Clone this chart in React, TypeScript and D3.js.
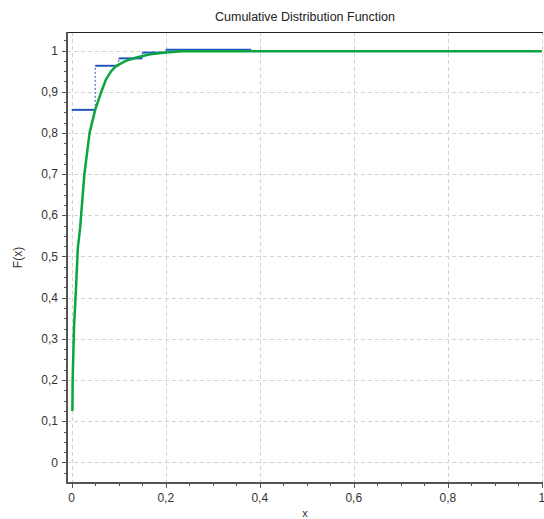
import React, { useRef, useEffect } from 'react';
import * as d3 from 'd3';

// empirical step function (blue)
const stepX = [0, 0.05, 0.1, 0.15, 0.2];
const stepY = [0.856, 0.963, 0.981, 0.995, 1.002];
const stepEnd = 0.382;

// fitted CDF (green)
const cdfX = [0.0015, 0.002, 0.005, 0.009, 0.013, 0.018, 0.02, 0.027, 0.038, 0.05, 0.063, 0.073, 0.084, 0.095, 0.115, 0.138, 0.167, 0.2, 0.235, 1.0];
const cdfY = [0.125, 0.2, 0.33, 0.42, 0.52, 0.57, 0.6, 0.7, 0.8, 0.856, 0.9, 0.93, 0.95, 0.963, 0.975, 0.983, 0.991, 0.995, 0.998, 0.998];

const xMajor = [0, 0.2, 0.4, 0.6, 0.8, 1];
const yMajor = [0, 0.1, 0.2, 0.3, 0.4, 0.5, 0.6, 0.7, 0.8, 0.9, 1];

const fmt = (v: number) => (v === 0 ? '0' : v === 1 ? '1' : v.toFixed(1).replace('.', ','));

const App = () => {
    const svgRef = useRef<SVGSVGElement>(null);

    useEffect(() => {
        const svg = d3.select(svgRef.current);
        svg.selectAll('*').remove();

        const W = 544, H = 519;
        const left = 67, right = 543, top = 32, bottom = 483;
        const font = '"Liberation Sans", Arial, sans-serif';

        const x = d3.scaleLinear().domain([-0.01, 1.0025]).range([left, right]);
        const y = d3.scaleLinear().domain([-0.05, 1.045]).range([bottom, top]);

        svg.append('rect').attr('width', W).attr('height', H).attr('fill', '#fff');

        // grid
        const grid = svg.append('g').attr('stroke', '#d6d3c8').attr('stroke-dasharray', '4,3').attr('stroke-width', 1);
        xMajor.forEach(v => {
            grid.append('line').attr('x1', Math.round(x(v)) + 0.5).attr('x2', Math.round(x(v)) + 0.5).attr('y1', top).attr('y2', bottom);
        });
        yMajor.forEach(v => {
            grid.append('line').attr('x1', left).attr('x2', right).attr('y1', Math.round(y(v)) + 0.5).attr('y2', Math.round(y(v)) + 0.5);
        });

        // blue steps
        const blue = '#2155c0';
        const steps = svg.append('g');
        stepX.forEach((sx, i) => {
            const ex = i < stepX.length - 1 ? stepX[i + 1] : stepEnd;
            steps.append('line')
                .attr('x1', x(sx)).attr('x2', x(ex))
                .attr('y1', y(stepY[i])).attr('y2', y(stepY[i]))
                .attr('stroke', blue).attr('stroke-width', 2);
            if (i < stepX.length - 1) {
                steps.append('line')
                    .attr('x1', x(ex)).attr('x2', x(ex))
                    .attr('y1', y(stepY[i])).attr('y2', y(stepY[i + 1]))
                    .attr('stroke', blue).attr('stroke-width', 1).attr('stroke-dasharray', '2,2');
            }
        });

        // green cdf
        const line = d3.line<number>()
            .x((d, i) => x(cdfX[i]))
            .y(d => y(d));
        svg.append('path')
            .datum(cdfY)
            .attr('fill', 'none')
            .attr('stroke', '#0aa540')
            .attr('stroke-width', 2.5)
            .attr('stroke-linejoin', 'round')
            .attr('d', line);

        // frame
        svg.append('line').attr('x1', left).attr('x2', right).attr('y1', top + 0.5).attr('y2', top + 0.5).attr('stroke', '#222').attr('stroke-width', 1);
        svg.append('line').attr('x1', left).attr('x2', left).attr('y1', top).attr('y2', bottom + 1).attr('stroke', '#555').attr('stroke-width', 2);
        svg.append('line').attr('x1', left - 1).attr('x2', right).attr('y1', bottom).attr('y2', bottom).attr('stroke', '#555').attr('stroke-width', 2);

        // ticks
        const ticks = svg.append('g').attr('stroke', '#555').attr('stroke-width', 1);
        d3.range(-0.025, 1.04, 0.025).forEach(v => {
            const yy = Math.round(y(v)) + 0.5;
            const major = yMajor.some(m => Math.abs(m - v) < 1e-6);
            ticks.append('line').attr('x1', left - (major ? 5 : 3)).attr('x2', left).attr('y1', yy).attr('y2', yy);
        });
        d3.range(0, 1.001, 0.05).forEach(v => {
            const xx = Math.round(x(v)) + 0.5;
            const major = xMajor.some(m => Math.abs(m - v) < 1e-6);
            ticks.append('line').attr('x1', xx).attr('x2', xx).attr('y1', bottom).attr('y2', bottom + (major ? 5 : 3));
        });

        // tick labels
        yMajor.forEach(v => {
            svg.append('text').attr('x', left - 9).attr('y', y(v)).attr('dy', '0.35em')
                .attr('text-anchor', 'end').attr('font-family', font).attr('font-size', 12).attr('fill', '#333')
                .text(fmt(v));
        });
        xMajor.forEach(v => {
            svg.append('text').attr('x', x(v)).attr('y', bottom + 19)
                .attr('text-anchor', 'middle').attr('font-family', font).attr('font-size', 12).attr('fill', '#333')
                .text(fmt(v));
        });

        // titles
        svg.append('text').attr('x', (left + right) / 2).attr('y', 21)
            .attr('text-anchor', 'middle').attr('font-family', font).attr('font-size', 12.5).attr('fill', '#222')
            .text('Cumulative Distribution Function');
        svg.append('text').attr('transform', `translate(22,${(top + bottom) / 2}) rotate(-90)`)
            .attr('text-anchor', 'middle').attr('font-family', font).attr('font-size', 12).attr('fill', '#333')
            .text('F(x)');
        svg.append('text').attr('x', (left + right) / 2).attr('y', 517)
            .attr('text-anchor', 'middle').attr('font-family', font).attr('font-size', 11).attr('fill', '#333')
            .text('x');
    }, []);

    return (
        <svg ref={svgRef} width={544} height={519} style={{ position: 'absolute', left: 0, top: 0 }} />
    );
};

export default App;
